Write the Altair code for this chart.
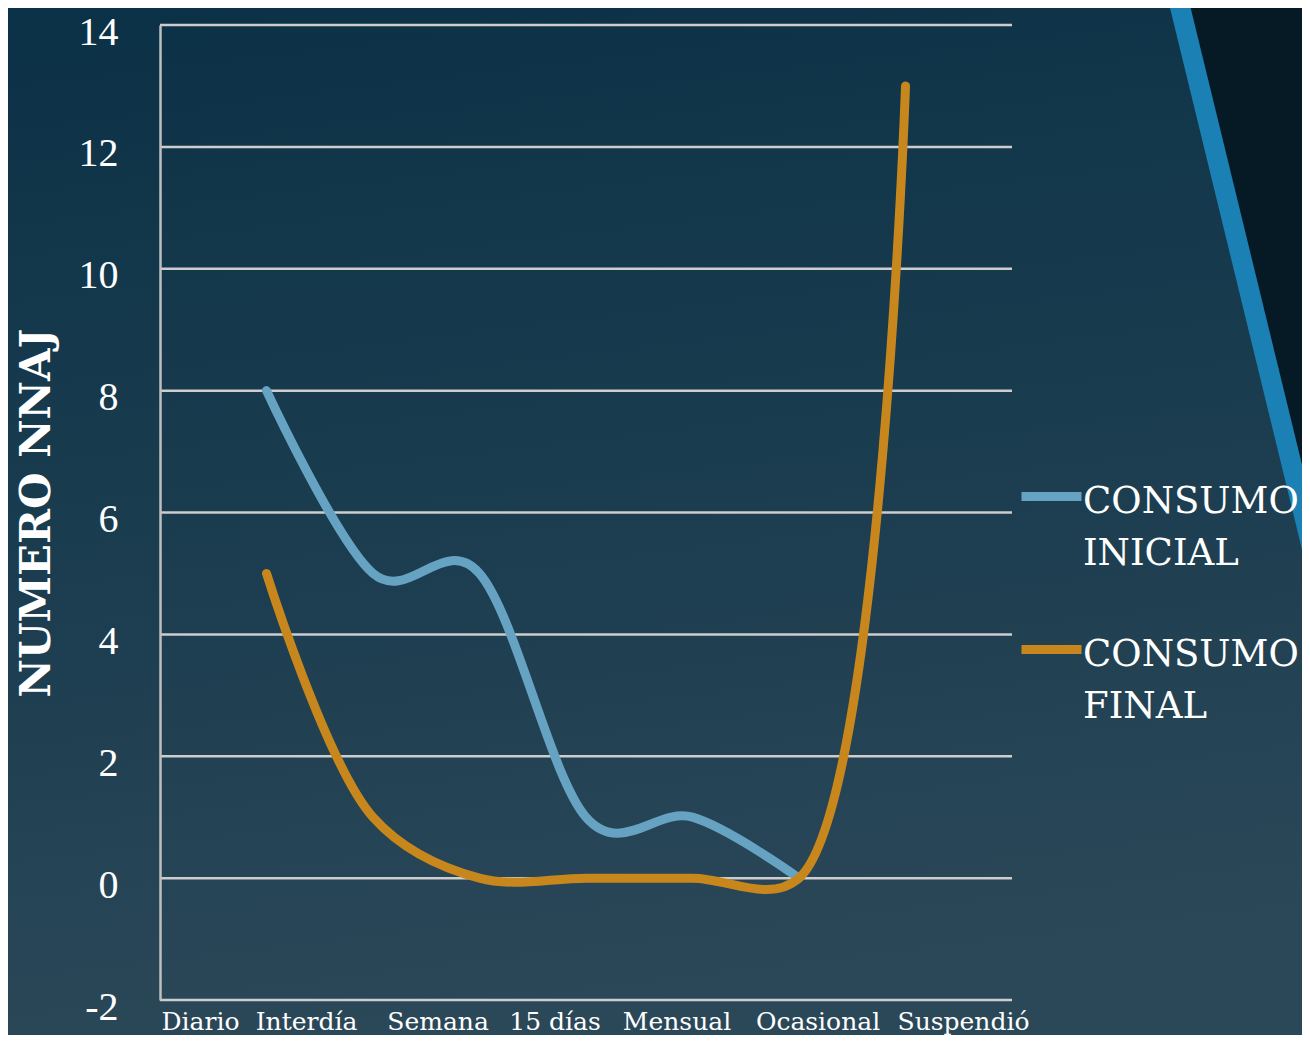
import json
import altair as alt
import pandas as pd

# ---------------- data ----------------
CATEGORIES = ["Diario", "Interdía", "Semana", "15 días", "Mensual", "Ocasional", "Suspendió"]
CONSUMO_INICIAL = [8, 5, 5, 1, 1, 0, None]
CONSUMO_FINAL = [5, 1, 0, 0, 0, 0, 13]
SERIES = ["CONSUMO INICIAL", "CONSUMO FINAL"]
COLORS = ["#66a3c3", "#c8871c"]
Y_TICKS = [-2, 0, 2, 4, 6, 8, 10, 12, 14]
# where the category labels sit along the (0..8) x axis
LABEL_POS = [0.376, 1.371, 2.606, 3.704, 4.85, 6.174, 7.54]

rows = []
for name, vals in zip(SERIES, [CONSUMO_INICIAL, CONSUMO_FINAL]):
    for i, (cat, v) in enumerate(zip(CATEGORIES, vals)):
        if v is None:
            continue
        rows.append({"serie": name, "categoria": cat, "pos": i + 1, "valor": v})
df = pd.DataFrame(rows)

# ---------------- layout ----------------
W, H = 852, 975
PAD = {"left": 152, "top": 17, "right": 290, "bottom": 35}

x_scale = alt.Scale(domain=[0, len(CATEGORIES) + 1], nice=False, zero=False)
y_scale = alt.Scale(domain=[Y_TICKS[0], Y_TICKS[-1]], nice=False, zero=False)

label_expr = (
    json.dumps(CATEGORIES, ensure_ascii=False)
    + "[indexof(" + json.dumps(LABEL_POS) + ", datum.value)]"
)

x_axis = alt.Axis(
    values=LABEL_POS, labelExpr=label_expr, title=None, grid=False, ticks=False,
    domain=False, labelFont="DejaVu Serif", labelFontSize=25, labelColor="white",
    labelPadding=9, labelOverlap=False, labelFlush=False, zindex=1,
)
y_axis = alt.Axis(
    values=Y_TICKS, labelExpr="toString(datum.value)",
    title="NUMERO NNAJ", titleFont="DejaVu Serif", titleFontSize=42,
    titleFontWeight="bold", titleColor="white", titlePadding=20, grid=False,
    ticks=False, domain=True, domainColor="#bfbfbf", domainWidth=2.5,
    labelFont="Liberation Serif", labelFontSize=40, labelColor="white",
    labelPadding=42, labelOffset=7, zindex=1,
)

legend = alt.Legend(
    title=None, orient="none", legendX=862, legendY=429,
    symbolType="M-1.2,0.52L1.2,0.52", symbolSize=2500, symbolStrokeWidth=9,
    labelFont="DejaVu Serif", labelFontSize=37, labelColor="white",
    labelBaseline="top", labelExpr="split(datum.label, ' ')", labelLimit=400,
    labelOffset=2, rowPadding=35, padding=0, zindex=1,
)
color = alt.Color(
    "serie:N", sort=SERIES, scale=alt.Scale(domain=SERIES, range=COLORS), legend=legend
)

# ---------------- background decoration ----------------
one = alt.Data(values=[{}])
bg = alt.Chart(one).mark_rect(
    fill=alt.LinearGradient(
        gradient="linear", x1=0, y1=0, x2=0.15, y2=1,
        stops=[
            alt.GradientStop(offset=0, color="#0b3146"),
            alt.GradientStop(offset=0.5, color="#1a3c4f"),
            alt.GradientStop(offset=1, color="#2b4858"),
        ],
    )
).encode(x=alt.value(-160), x2=alt.value(1150), y=alt.value(-25), y2=alt.value(1030))

dark = alt.Chart(one).mark_rule(color="#061a25", strokeWidth=200).encode(
    x=alt.value(1101), y=alt.value(-151), x2=alt.value(1296), y2=alt.value(649)
)
stripe = alt.Chart(one).mark_rule(color="#1b80b4", strokeWidth=20).encode(
    x=alt.value(994), y=alt.value(-125), x2=alt.value(1189), y2=alt.value(675)
)

# ---------------- grid + data ----------------
grid = alt.Chart(pd.DataFrame({"v": Y_TICKS})).mark_rule(
    color="#cdcdcd", strokeWidth=2.5
).encode(y=alt.Y("v:Q", scale=y_scale, axis=y_axis))

base = alt.Chart(df).encode(
    x=alt.X("pos:Q", scale=x_scale, axis=x_axis),
    y=alt.Y("valor:Q", scale=y_scale, axis=y_axis),
    color=color,
)
line_ini = base.transform_filter(alt.datum.serie == SERIES[0]).mark_line(
    interpolate="cardinal", tension=0, strokeWidth=9, strokeCap="round", strokeJoin="round"
)
line_fin = base.transform_filter(alt.datum.serie == SERIES[1]).mark_line(
    interpolate="catmull-rom", strokeWidth=9, strokeCap="round", strokeJoin="round"
)

chart = (
    alt.layer(bg, dark, stripe, grid, line_ini, line_fin)
    .properties(
        width=W, height=H, padding=PAD, autosize=alt.AutoSizeParams(type="none"),
        background="#1a3c4f",
    )
    .configure(style={"guide-label": {"lineHeight": 52}})
    .configure_view(stroke=None)
)

chart.save("out.html", embed_options={"renderer": "svg", "actions": False})
